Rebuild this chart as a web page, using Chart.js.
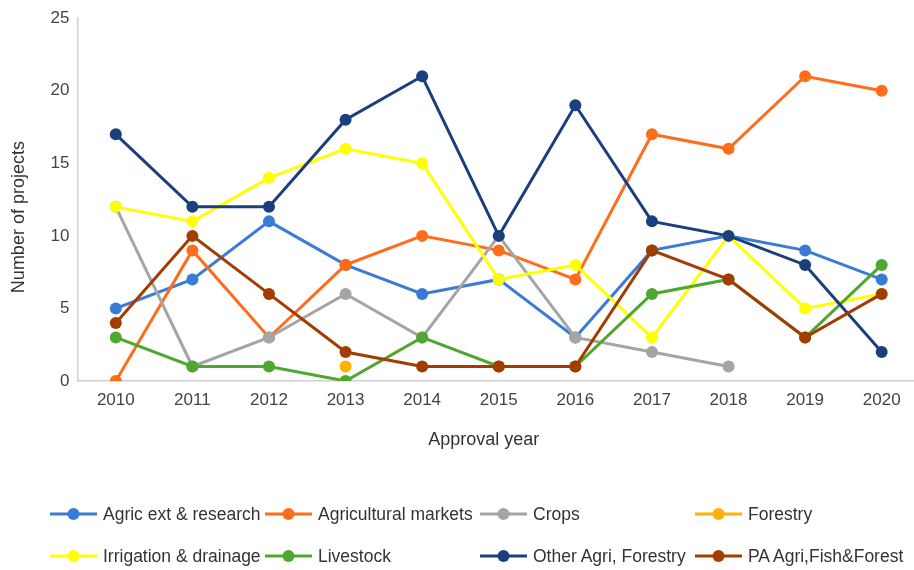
<!DOCTYPE html>
<html>
<head>
<meta charset="utf-8">
<script src="https://cdn.jsdelivr.net/npm/chart.js@4/dist/chart.umd.min.js"></script>
<style>
  html, body { margin: 0; padding: 0; background: #fff; overflow: hidden; }
  #wrap { position: relative; width: 926px; height: 570px; overflow: hidden; }
  #linechart { position: absolute; left: 0; top: 0; }
  #legend { position: absolute; left: 0; top: 0; width: 914px; height: 570px; pointer-events: none;
            font-family: "Liberation Sans", Arial, sans-serif; font-size: 17.5px; color: #333; }
  .item { position: absolute; display: flex; align-items: center; white-space: nowrap; }
  .item canvas { margin-right: 6px; }
</style>
</head>
<body>
<div id="wrap">
  <canvas id="linechart" width="926" height="455"></canvas>
  <div id="legend"></div>
</div>
<script>
let years = ['2010', '2011', '2012', '2013', '2014', '2015', '2016', '2017', '2018', '2019', '2020'];

let agricExt = [5, 7, 11, 8, 6, 7, 3, 9, 10, 9, 7];
let agriMarkets = [0, 9, 3, 8, 10, 9, 7, 17, 16, 21, 20];
let crops = [12, 1, 3, 6, 3, 10, 3, 2, 1, null, null];
let forestry = [null, null, null, 1, null, null, null, null, null, null, null];
let irrigation = [12, 11, 14, 16, 15, 7, 8, 3, 10, 5, 6];
let livestock = [3, 1, 1, 0, 3, 1, 1, 6, 7, 3, 8];
let otherAgri = [17, 12, 12, 18, 21, 10, 19, 11, 10, 8, 2];
let paAgri = [4, 10, 6, 2, 1, 1, 1, 9, 7, 3, 6];

let yTicks = [0, 5, 10, 15, 20, 25];

let series = [
  { label: 'Agric ext & research', color: '#3a7bd5', data: agricExt },
  { label: 'Agricultural markets', color: '#ff6d1a', data: agriMarkets },
  { label: 'Crops', color: '#a5a5a5', data: crops },
  { label: 'Forestry', color: '#ffb300', data: forestry },
  { label: 'Irrigation & drainage', color: '#ffff00', data: irrigation },
  { label: 'Livestock', color: '#4ea72e', data: livestock },
  { label: 'Other Agri, Forestry', color: '#1b3f7d', data: otherAgri },
  { label: 'PA Agri,Fish&Forest', color: '#a23c00', data: paAgri },
];

let font = "'Liberation Sans', Arial, sans-serif";

let datasets = series.map(function (s, i) {
  return {
    label: s.label,
    data: s.data,
    borderColor: s.color,
    backgroundColor: s.color,
    pointBackgroundColor: s.color,
    pointBorderColor: s.color,
    borderWidth: 3,
    pointRadius: 6,
    pointBorderWidth: 0,
    tension: 0,
    spanGaps: false,
    // later series sit on top, as in the original
    order: series.length - i,
  };
});

let ctx = document.getElementById('linechart');
let chart = new Chart(ctx, {
  type: 'line',
  data: { labels: years, datasets: datasets },
  options: {
    responsive: false,
    animation: false,
    devicePixelRatio: 1,
    layout: { padding: { top: 7.5, left: 4, right: 0, bottom: 0 } },
    plugins: {
      legend: { display: false },
      tooltip: { enabled: false },
    },
    scales: {
      x: {
        offset: true,
        grid: { display: false, drawTicks: false },
        border: { color: '#d0d0d0', width: 1.5 },
        ticks: { color: '#444', font: { family: font, size: 17 }, padding: 9 },
        // trailing spaces nudge the title left like the original
        title: { display: true, text: 'Approval year      ', color: '#333', font: { family: font, size: 18 }, padding: { top: 10 } },
      },
      y: {
        min: 0,
        max: 25,
        afterBuildTicks: function (axis) {
          axis.ticks = yTicks.map(function (v) { return { value: v }; });
        },
        grid: { display: false, drawTicks: false },
        border: { color: '#d0d0d0', width: 1.5 },
        ticks: { color: '#444', font: { family: font, size: 17 }, padding: 8 },
        title: { display: true, text: 'Number of projects       ', color: '#333', font: { family: font, size: 18 }, padding: { bottom: 13 } },
      },
    },
  },
});

// legend below the plot: 4 columns, 2 rows
let legendCols = [50, 265, 480, 695];
let legendRows = [514, 556];
let legendEl = document.getElementById('legend');
chart.data.datasets.forEach(function (ds, i) {
  let item = document.createElement('div');
  item.className = 'item';
  item.style.left = legendCols[i % 4] + 'px';
  item.style.top = (legendRows[Math.floor(i / 4)] - 11) + 'px';
  let icon = document.createElement('canvas');
  icon.width = 47;
  icon.height = 22;
  let c = icon.getContext('2d');
  c.strokeStyle = ds.borderColor;
  c.fillStyle = ds.borderColor;
  c.lineWidth = 3;
  c.beginPath();
  c.moveTo(0, 11);
  c.lineTo(47, 11);
  c.stroke();
  c.beginPath();
  c.arc(23.5, 11, 6, 0, Math.PI * 2);
  c.fill();
  item.appendChild(icon);
  let txt = document.createElement('span');
  txt.textContent = ds.label;
  item.appendChild(txt);
  legendEl.appendChild(item);
});
</script>
</body>
</html>
